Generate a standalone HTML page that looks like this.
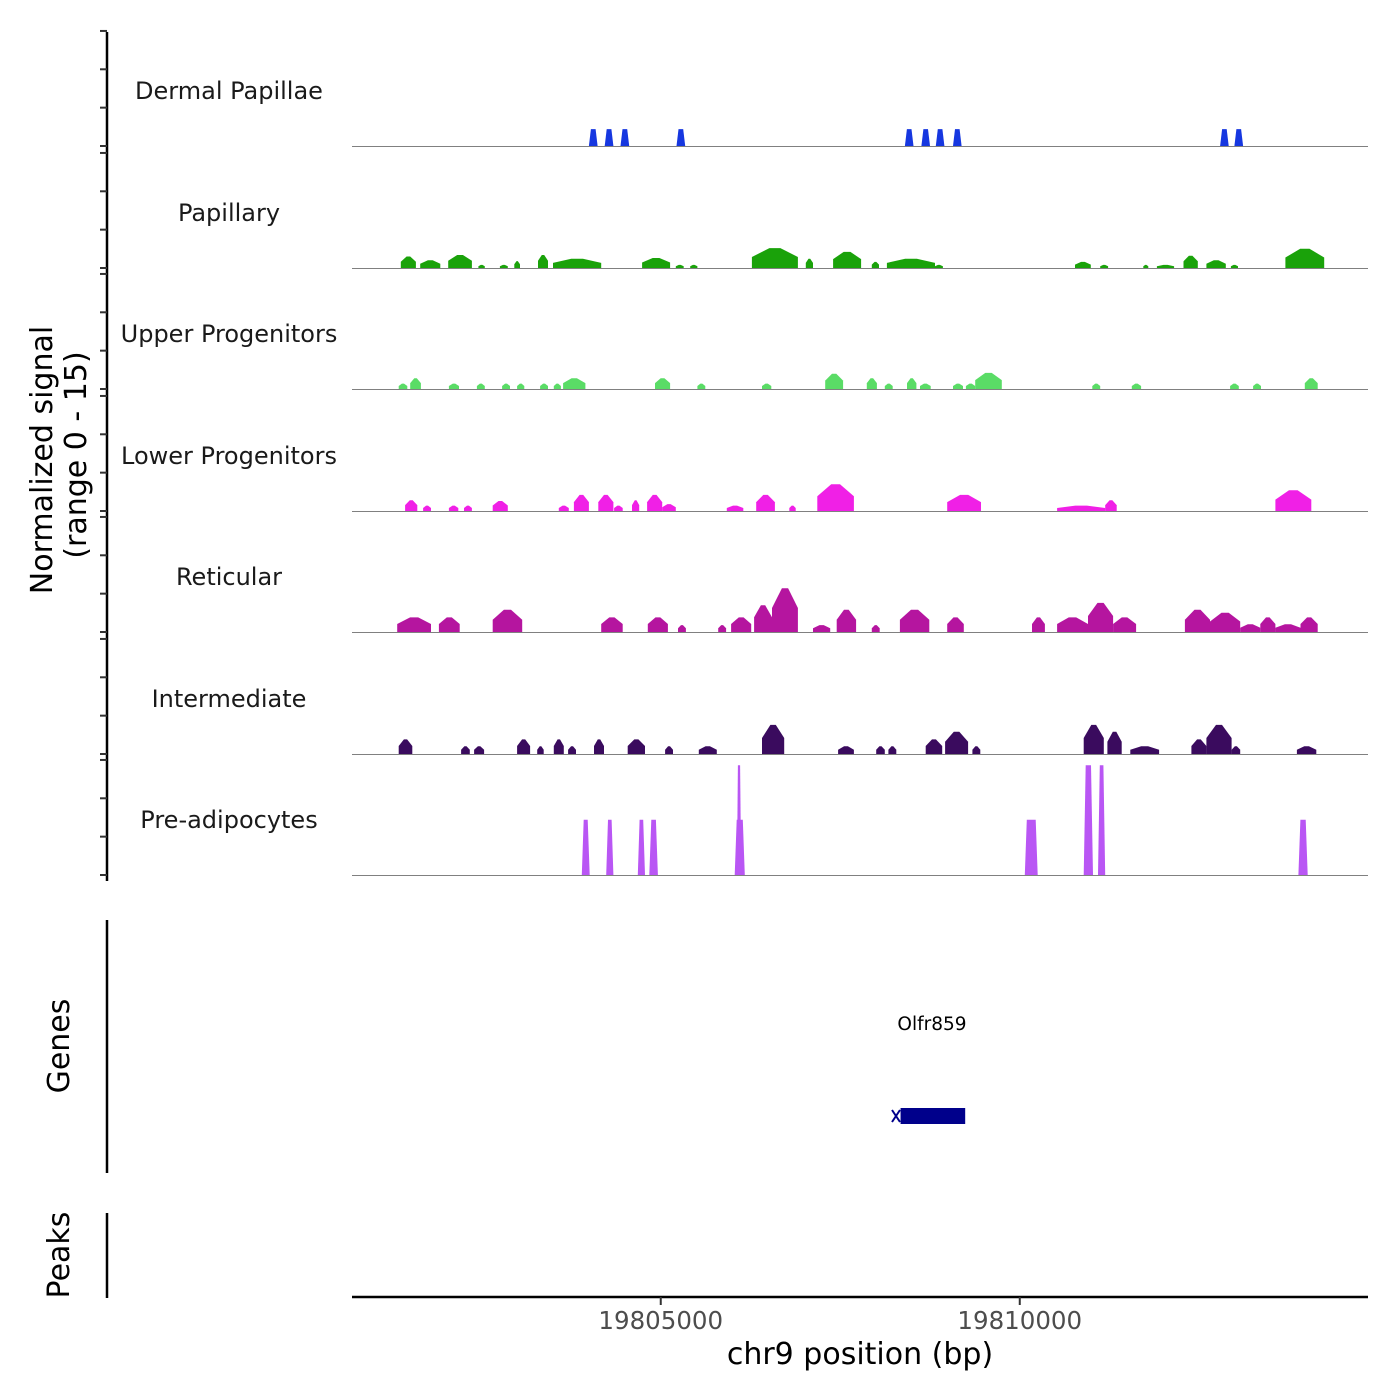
<!DOCTYPE html>
<html><head><meta charset="utf-8"><style>
html,body{margin:0;padding:0;background:#fff;}
svg{display:block;font-family:"DejaVu Sans","Liberation Sans",sans-serif;}
</style></head><body>
<svg id="chart" width="1400" height="1400" viewBox="0 0 1400 1400" xmlns="http://www.w3.org/2000/svg">
<g id="tracks"></g>
<g id="axes"></g>
</svg>
<script>
// ---- data (positions in kb offset from chr9:19,800,000) ----
const trackNames = ["Dermal Papillae","Papillary","Upper Progenitors","Lower Progenitors","Reticular","Intermediate","Pre-adipocytes"];
const trackColors = ["#1637e0","#1aa20a","#5adc66","#f020e6","#b5159f","#3a0b5e","#b956f4"];
const xTickValues = [5, 10];
const xTickLabels = ["19805000","19810000"];
const dermalStarts = [4.00,4.22,4.44,5.22,8.40,8.63,8.83,9.07,12.79,12.99];
const dermalEnds   = [4.12,4.34,4.56,5.34,8.52,8.75,8.95,9.19,12.91,13.11];
const dermalHeights= [2.2,2.2,2.2,2.2,2.2,2.2,2.2,2.2,2.2,2.2];
const papStarts = [1.38,1.65,2.04,2.46,2.76,2.96,3.29,3.50,4.74,5.21,5.41,6.27,7.02,7.40,7.94,8.15,8.82,10.77,11.12,11.72,11.91,12.28,12.60,12.94,13.70];
const papEnds   = [1.59,1.93,2.37,2.55,2.87,3.04,3.43,4.17,5.13,5.32,5.51,6.91,7.12,7.79,8.04,8.82,8.93,10.99,11.23,11.79,12.15,12.48,12.87,13.04,14.24];
const papHeights= [1.5,1.0,1.7,0.4,0.4,0.9,1.7,1.2,1.3,0.4,0.4,2.6,1.2,2.1,0.8,1.2,0.4,0.8,0.4,0.4,0.4,1.6,1.0,0.4,2.5];
const upStarts = [1.35,1.51,2.05,2.44,2.79,3.00,3.32,3.51,3.64,4.92,5.51,6.41,7.29,7.87,8.12,8.43,8.61,9.07,9.25,9.38,11.01,11.56,12.93,13.25,13.97];
const upEnds   = [1.47,1.66,2.19,2.55,2.90,3.10,3.43,3.61,3.95,5.13,5.62,6.54,7.54,8.01,8.23,8.56,8.76,9.21,9.38,9.75,11.12,11.69,13.05,13.36,14.15];
const upHeights= [0.7,1.4,0.7,0.7,0.7,0.7,0.7,0.7,1.4,1.4,0.7,0.7,2.0,1.4,0.7,1.4,0.7,0.7,0.7,2.1,0.7,0.7,0.7,0.7,1.4];
const lowStarts = [1.44,1.69,2.05,2.26,2.66,3.58,3.79,4.13,4.35,4.60,4.81,5.02,5.92,6.33,6.79,7.18,8.99,10.52,11.19,13.56];
const lowEnds   = [1.61,1.80,2.18,2.37,2.87,3.72,4.00,4.34,4.47,4.70,5.02,5.21,6.15,6.59,6.88,7.69,9.46,11.19,11.35,14.06];
const lowHeights= [1.4,0.7,0.7,0.7,1.3,0.7,2.1,2.1,0.7,1.4,2.1,0.9,0.7,2.1,0.7,3.5,2.1,0.7,1.4,2.7];
const retStarts = [1.33,1.91,2.66,4.17,4.82,5.24,5.80,5.98,6.30,6.55,7.12,7.45,7.94,8.33,8.99,10.17,10.52,10.95,11.30,12.30,12.65,13.07,13.35,13.56,13.91];
const retEnds   = [1.80,2.20,3.07,4.47,5.10,5.35,5.91,6.26,6.55,6.91,7.36,7.72,8.05,8.74,9.22,10.35,10.95,11.30,11.62,12.65,13.07,13.35,13.56,13.91,14.15];
const retHeights= [1.9,1.9,2.9,1.9,1.9,0.9,0.9,1.9,3.5,5.7,0.9,2.9,0.9,2.9,1.9,1.9,1.9,3.8,1.9,2.9,2.5,1.0,1.9,1.0,1.9];
const intStarts = [1.35,2.22,2.40,3.00,3.28,3.51,3.71,4.07,4.54,5.06,5.53,6.41,7.47,8.00,8.17,8.69,8.96,9.34,10.89,11.22,11.54,12.39,12.60,12.95,13.86];
const intEnds   = [1.54,2.34,2.54,3.18,3.37,3.65,3.82,4.21,4.78,5.17,5.78,6.72,7.69,8.12,8.28,8.92,9.28,9.45,11.17,11.42,11.94,12.60,12.95,13.07,14.13];
const intHeights= [1.9,1.0,1.0,1.9,1.0,1.9,1.0,1.9,1.9,1.0,1.0,3.8,1.0,1.0,1.0,1.9,2.9,1.0,3.8,2.9,1.0,1.9,3.8,1.0,1.0];
const preStarts = [3.90,4.24,4.68,4.84,6.03,6.06,10.07,10.89,11.09,13.88];
const preEnds   = [4.01,4.34,4.78,4.96,6.17,6.12,10.25,11.02,11.19,14.01];
const preHeights= [7.2,7.2,7.2,7.2,7.2,14.3,7.2,14.3,14.3,7.2];
const geneStart = 8.34, geneEnd = 9.24;

const seriesStarts = [dermalStarts,papStarts,upStarts,lowStarts,retStarts,intStarts,preStarts];
const seriesEnds = [dermalEnds,papEnds,upEnds,lowEnds,retEnds,intEnds,preEnds];
const seriesHeights = [dermalHeights,papHeights,upHeights,lowHeights,retHeights,intHeights,preHeights];
const trapezoid = [true,false,false,false,false,false,true];

const X0 = 352, X1 = 1368, D0 = 0.70, D1 = 14.85;
function xs(v){ return X0 + (v - D0) / (D1 - D0) * (X1 - X0); }
const baselines = [146,268,389,511,632,754,875];
const PX_PER_UNIT = 7.67;
function ys(i, v){ return baselines[i] - v * PX_PER_UNIT; }

const NS = "http://www.w3.org/2000/svg";
function mk(tag, attrs, parent){ const e = document.createElementNS(NS, tag); for (const k in attrs) e.setAttribute(k, attrs[k]); parent.appendChild(e); return e; }
const tracks = document.getElementById('tracks');
const axes = document.getElementById('axes');

for (let i = 0; i < trackNames.length; i++) {
  const g = mk('g', {}, tracks);
  
  
  const lbl = mk('text', {x:229, y:baselines[i]-47, 'text-anchor':'middle', 'font-size':24, fill:'#1a1a1a'}, g);
  lbl.textContent = trackNames[i];
  
  
  const st = seriesStarts[i], en = seriesEnds[i], hs = seriesHeights[i];
  for (let j = 0; j < st.length; j++) {
    const a = xs(st[j]), b = xs(en[j]), c = (a + b) / 2, y0 = ys(i, 0), yh = ys(i, hs[j]), ym = ys(i, hs[j]*0.55);
    let pts;
    if (trapezoid[i]) { const ins = Math.min(2, (b-a)/4); pts = [[a,y0],[a+ins,yh],[b-ins,yh],[b,y0]]; }
    else pts = [[a,y0],[a,ym],[c-(b-a)*0.12,yh],[c+(b-a)*0.12,yh],[b,ym],[b,y0]];
    const p = mk('polygon', {points: pts.map(q=>q[0].toFixed(1)+','+q[1].toFixed(1)).join(' '), fill: trackColors[i]}, g);
    
    
  }
  const bl = mk('line', {x1:X0, x2:X1, y1:baselines[i]+0.5, y2:baselines[i]+0.5, stroke:'#808080', 'stroke-width':1}, g);
  
  
}

const ya = mk('line', {x1:107, x2:107, y1:32, y2:881, stroke:'#000', 'stroke-width':2.5}, axes);


for (let i = 0; i < baselines.length; i++) {
  for (let k = 0; k <= 3; k++) {
    const y = baselines[i] - k * 5 * PX_PER_UNIT;
    const t = mk('line', {x1:100, x2:107, y1:y, y2:y, stroke:'#333', 'stroke-width':2}, axes);
    
    
  }
}
let t1 = mk('text', {x:0, y:0, transform:'translate(52,460) rotate(-90)', 'text-anchor':'middle', 'font-size':30, fill:'#000'}, axes);
t1.textContent = 'Normalized signal';


let t2 = mk('text', {x:0, y:0, transform:'translate(86,455) rotate(-90)', 'text-anchor':'middle', 'font-size':30, fill:'#000'}, axes);
t2.textContent = '(range 0 - 15)';



const ga = mk('line', {x1:107, x2:107, y1:920, y2:1173, stroke:'#000', 'stroke-width':2.5}, axes);


let gt = mk('text', {x:0, y:0, transform:'translate(69,1046) rotate(-90)', 'text-anchor':'middle', 'font-size':30, fill:'#000'}, axes);
gt.textContent = 'Genes';


let gl = mk('text', {x:932, y:1030, 'text-anchor':'middle', 'font-size':18.5, fill:'#000'}, axes);
gl.textContent = 'Olfr859';


let gb = mk('rect', {x:xs(geneStart), y:1108, width:xs(geneEnd)-xs(geneStart), height:16, fill:'#00008b'}, axes);


let gs = mk('path', {d:'M892 1110 L900 1122 M892 1122 L900 1110', stroke:'#00008b', 'stroke-width':2}, axes);



const pa = mk('line', {x1:107, x2:107, y1:1213, y2:1298, stroke:'#000', 'stroke-width':2.5}, axes);


let pt = mk('text', {x:0, y:0, transform:'translate(69,1255) rotate(-90)', 'text-anchor':'middle', 'font-size':30, fill:'#000'}, axes);
pt.textContent = 'Peaks';



const xa = mk('line', {x1:X0, x2:X1, y1:1297, y2:1297, stroke:'#000', 'stroke-width':2.5}, axes);


for (let i = 0; i < xTickValues.length; i++) {
  const x = xs(xTickValues[i]);
  const tk = mk('line', {x1:x, x2:x, y1:1297, y2:1305, stroke:'#333', 'stroke-width':2}, axes);
  
  
  const tl = mk('text', {x:x, y:1329, 'text-anchor':'middle', 'font-size':24.5, fill:'#4d4d4d'}, axes);
  tl.textContent = xTickLabels[i];
  
  
}
let xt = mk('text', {x:860, y:1364, 'text-anchor':'middle', 'font-size':30, fill:'#000'}, axes);
xt.textContent = 'chr9 position (bp)';


</script>
</body></html>
